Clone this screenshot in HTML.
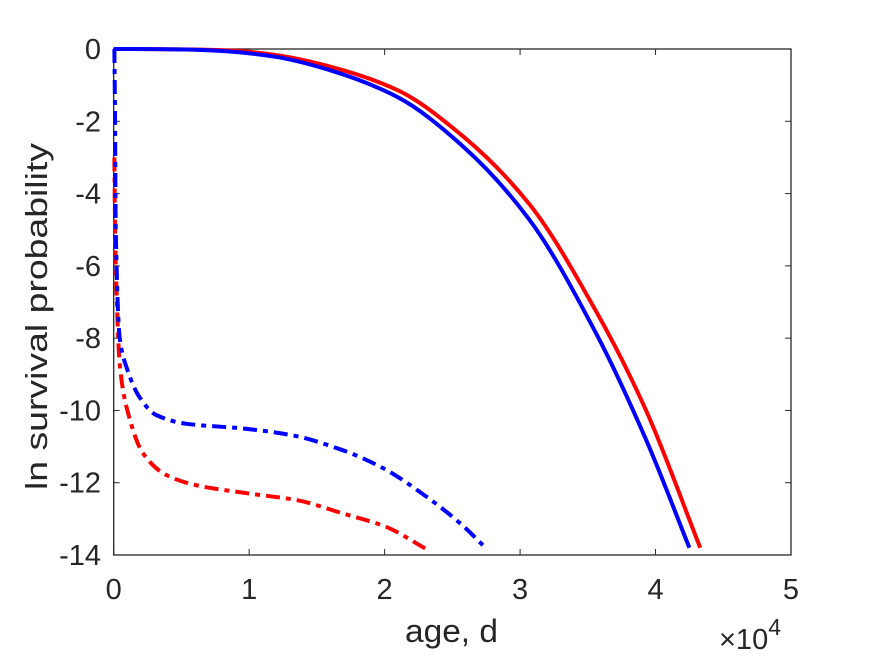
<!DOCTYPE html>
<html><head><meta charset="utf-8"><style>
body{margin:0;background:#fff;}
svg{display:block;font-family:"Liberation Sans",Arial,sans-serif;}
</style></head><body>
<svg id="chart" width="875" height="656" viewBox="0 0 875 656" xmlns="http://www.w3.org/2000/svg">
<rect width="875" height="656" fill="#fff"/>
<g id="axes"></g>
<g id="series"></g>
</svg>
<script>
const xTicks=[0,1,2,3,4,5];
const yTicks=[0,-2,-4,-6,-8,-10,-12,-14];
const blueSolidX=[0,0.3,0.6,0.857,1.2,1.59,2.09,2.58,3.07,3.56,3.93,4.25];
const blueSolidY=[0,-0.003,-0.02,-0.07,-0.22,-0.58,-1.32,-2.7,-4.73,-7.86,-10.81,-13.8];
const redSolidX=[0,0.3,0.6,0.9,1.2,1.59,2.09,2.58,3.07,3.56,3.93,4.33];
const redSolidY=[0,-0.002,-0.015,-0.05,-0.17,-0.48,-1.13,-2.42,-4.3,-7.25,-10.0,-13.8];
const blueDashX=[0.005,0.01,0.015,0.044,0.094,0.19,0.315,0.537,0.955,1.32,1.69,1.99,2.31,2.56,2.75];
const blueDashY=[0,-2,-5,-7.98,-8.8,-9.63,-10.13,-10.37,-10.5,-10.69,-11.1,-11.6,-12.39,-13.13,-13.82];
const redDashX=[0.005,0.01,0.02,0.044,0.094,0.217,0.39,0.61,1.0,1.35,1.69,2.01,2.30];
const redDashY=[-3,-5,-6.6,-8.7,-9.9,-11.19,-11.79,-12.07,-12.3,-12.48,-12.85,-13.22,-13.82];

const L=113.7,R=791,T=49,B=555;
const xs=v=>L+(v/5)*(R-L);
const ys=v=>T+(-v/14)*(B-T);
const NS="http://www.w3.org/2000/svg";
const axes=document.getElementById('axes'), ser=document.getElementById('series');
function mk(tag,attrs,parent){const e=document.createElementNS(NS,tag);for(const k in attrs)e.setAttribute(k,attrs[k]);parent.appendChild(e);return e;}

const box=mk('rect',{x:L,y:T,width:R-L,height:B-T,fill:'none',stroke:'#262626','stroke-width':1.3},axes);


xTicks.forEach(t=>{
  const x=xs(t);
  const l1=mk('line',{x1:x,x2:x,y1:B,y2:B-6,stroke:'#262626','stroke-width':1},axes);
  
  
  const l2=mk('line',{x1:x,x2:x,y1:T,y2:T+6,stroke:'#262626','stroke-width':1},axes);
  
  
  const tx=mk('text',{x:x,y:599,'text-anchor':'middle','font-size':29,fill:'#262626'},axes);
  tx.textContent=t;
  
  
});
yTicks.forEach(t=>{
  const y=ys(t);
  const l1=mk('line',{x1:L,x2:L+6,y1:y,y2:y,stroke:'#262626','stroke-width':1},axes);
  
  
  const l2=mk('line',{x1:R,x2:R-6,y1:y,y2:y,stroke:'#262626','stroke-width':1},axes);
  
  
  const tx=mk('text',{x:101,y:y+10,'text-anchor':'end','font-size':29,fill:'#262626'},axes);
  tx.textContent=t;
  
  
});
const xl=mk('text',{x:405,y:642,'font-size':32,fill:'#262626',textLength:93,lengthAdjust:'spacingAndGlyphs'},axes);
xl.textContent='age, d';


const ex=mk('text',{x:719,y:649,'font-size':29,fill:'#262626'},axes);
ex.innerHTML='×10<tspan dy="-14" font-size="23">4</tspan>';


const yl=mk('text',{x:0,y:0,'font-size':31,fill:'#262626',textLength:347,lengthAdjust:'spacingAndGlyphs',transform:'translate(47,490) rotate(-90)'},axes);
yl.textContent='ln survival probability';



function pathOf(X,Y){
  const p=X.map((x,i)=>[xs(x),ys(Y[i])]);
  const n=p.length, m=[];
  const d=[];
  for(let i=0;i<n-1;i++) d.push((p[i+1][1]-p[i][1])/(p[i+1][0]-p[i][0]||1e-6));
  for(let i=0;i<n;i++){
    if(i===0) m.push(d[0]); else if(i===n-1) m.push(d[n-2]);
    else m.push(d[i-1]*d[i]<=0?0:2/(1/d[i-1]+1/d[i]));
  }
  let s='M'+p[0][0]+','+p[0][1];
  for(let i=0;i<n-1;i++){
    const h=p[i+1][0]-p[i][0];
    s+=` C${p[i][0]+h/3},${p[i][1]+m[i]*h/3} ${p[i+1][0]-h/3},${p[i+1][1]-m[i+1]*h/3} ${p[i+1][0]},${p[i+1][1]}`;
  }
  return s;
}
const rd=mk('path',{d:pathOf(redDashX,redDashY),fill:'none',stroke:'#ff0000','stroke-width':4,'stroke-dasharray':'14,6,5,6'},ser);


const bd=mk('path',{d:pathOf(blueDashX,blueDashY),fill:'none',stroke:'#0000ff','stroke-width':4,'stroke-dasharray':'14,6,5,6'},ser);


const rs=mk('path',{d:pathOf(redSolidX,redSolidY),fill:'none',stroke:'#ff0000','stroke-width':4},ser);


const bs=mk('path',{d:pathOf(blueSolidX,blueSolidY),fill:'none',stroke:'#0000ff','stroke-width':4},ser);


</script>
</body></html>
